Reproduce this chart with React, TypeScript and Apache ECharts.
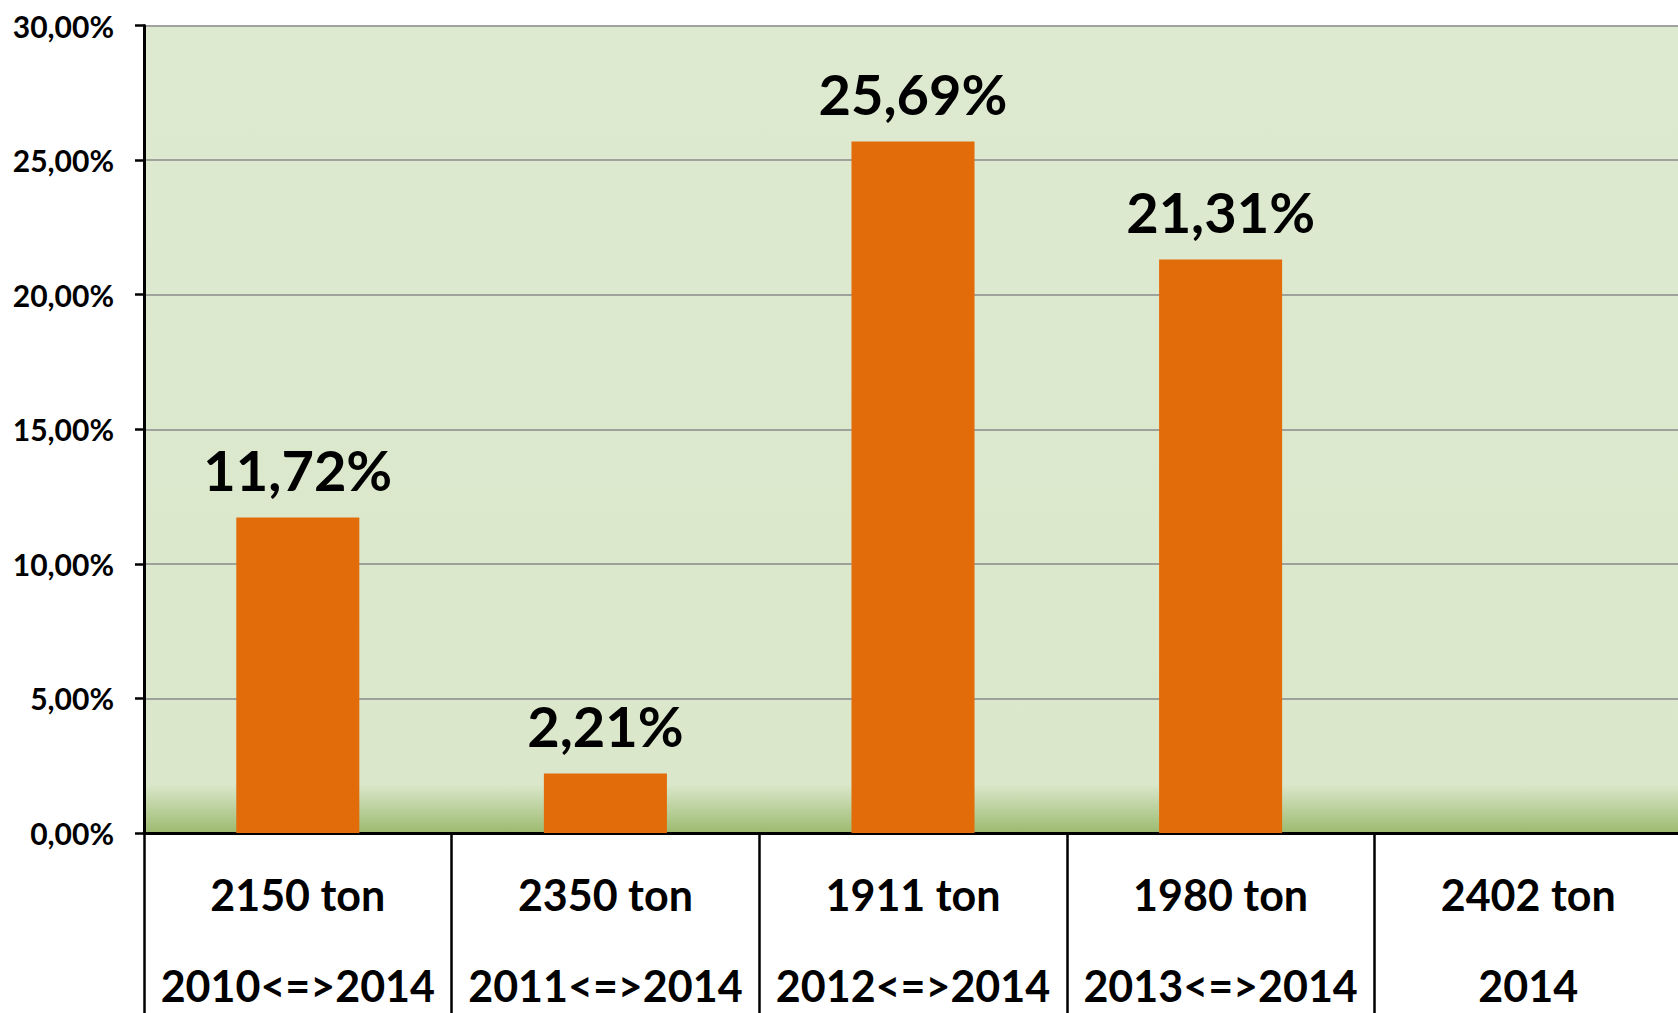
import React, { useEffect, useRef } from "react";
import * as echarts from "echarts";

const tonnages = ["2150 ton", "2350 ton", "1911 ton", "1980 ton", "2402 ton"];
const periods = ["2010<=>2014", "2011<=>2014", "2012<=>2014", "2013<=>2014", "2014"];
const percentValues: (number | null)[] = [11.72, 2.21, 25.69, 21.31, null];
const yMin = 0;
const yMax = 30;
const yStep = 5;

const FONT = "Lato, 'Open Sans', 'DejaVu Sans', sans-serif";
const fmt = (v: number) => v.toFixed(2).replace(".", ",") + "%";

export default function App() {
  const ref = useRef<HTMLDivElement>(null);
  useEffect(() => {
    document.body.style.margin = "0";
    document.body.style.overflow = "hidden";
    const chart = echarts.init(ref.current!, null, { renderer: "svg" });
    const categories = tonnages.map((t, i) => t + "\n" + periods[i]);
    chart.setOption({
      animation: false,
      backgroundColor: "#ffffff",
      grid: {
        left: 144,
        top: 25.5,
        bottom: 180,
        right: 0,
        containLabel: false,
        outerBoundsMode: "none",
        show: true,
        borderWidth: 0,
        backgroundColor: new echarts.graphic.LinearGradient(0, 0, 0, 1, [
          { offset: 0, color: "#DEEAD0" },
          { offset: 0.94, color: "#DAE7CA" },
          { offset: 1, color: "#9CBA6E" },
        ]),
      },
      xAxis: {
        type: "category",
        data: categories,
        axisLine: { show: true, lineStyle: { color: "#000", width: 3 } },
        axisTick: {
          show: true,
          alignWithLabel: false,
          length: 190,
          lineStyle: { color: "#000", width: 2.5 },
        },
        axisLabel: {
          interval: 0,
          margin: 16,
          color: "#000",
          fontFamily: FONT,
          fontWeight: "bold",
          fontSize: 43,
          lineHeight: 91,
        },
        splitLine: { show: false },
      },
      yAxis: {
        type: "value",
        min: yMin,
        max: yMax,
        interval: yStep,
        axisLine: { show: true, lineStyle: { color: "#000", width: 3 } },
        axisTick: { show: true, length: 9, lineStyle: { color: "#000", width: 2.5 } },
        axisLabel: {
          margin: 30,
          color: "#000",
          fontFamily: FONT,
          fontWeight: "bold",
          fontSize: 30,
          formatter: (v: number) => fmt(v),
        },
        splitLine: { show: true, lineStyle: { color: "#8A8A8A", width: 1.5 } },
      },
      series: [
        {
          type: "bar",
          data: percentValues,
          barWidth: "40%",
          itemStyle: { color: "#E36C0A" },
          label: {
            show: true,
            position: "top",
            distance: 20,
            color: "#000",
            fontFamily: FONT,
            fontWeight: "bold",
            fontSize: 56,
            formatter: (p: any) => fmt(p.value),
          },
        },
      ],
    });
    return () => chart.dispose();
  }, []);
  return (
    <div style={{ position: "absolute", left: 0, top: 0, width: 1678, height: 1013, overflow: "hidden" }}>
      <div ref={ref} style={{ width: 1682, height: 1013 }} />
    </div>
  );
}
